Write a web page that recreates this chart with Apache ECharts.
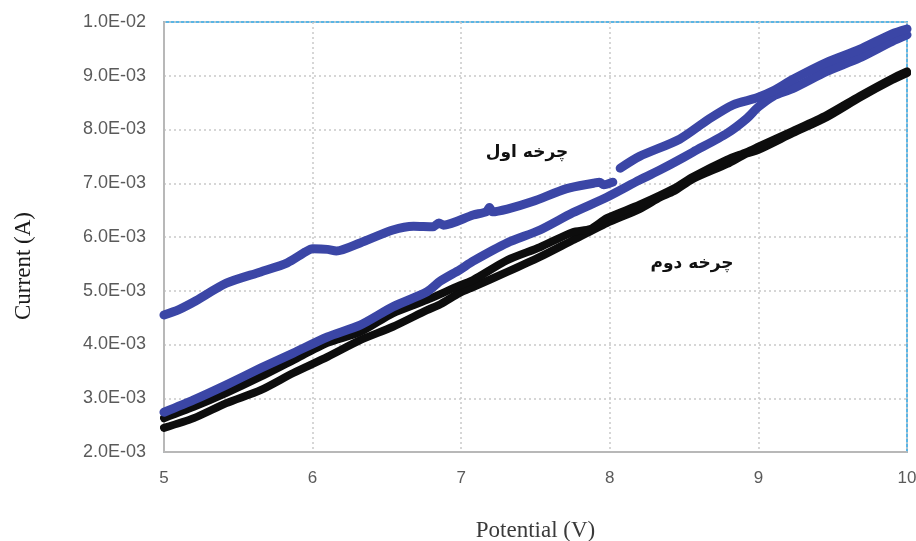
<!DOCTYPE html>
<html>
<head>
<meta charset="utf-8">
<script src="https://cdn.jsdelivr.net/npm/echarts@6/dist/echarts.min.js"></script>
<style>
  html, body { margin: 0; padding: 0; background: #ffffff; }
  #chart { width: 916px; height: 541px; }
</style>
</head>
<body>
<div id="chart"></div>
<script>
// ---- Data ----
const xTickLabels = ['5', '6', '7', '8', '9', '10'];
const yTickLabels = ['2.0E-03', '3.0E-03', '4.0E-03', '5.0E-03', '6.0E-03', '7.0E-03', '8.0E-03', '9.0E-03', '1.0E-02'];

// Cycle 1 (blue) - lower branch
const cycle1LowerV = [5.00, 5.20, 5.42, 5.65, 5.87, 6.10, 6.32, 6.54, 6.77, 6.86, 6.99, 7.08, 7.31, 7.53, 7.75, 7.98, 8.20, 8.34, 8.43, 8.56, 8.79, 8.92, 9.00, 9.10, 9.23, 9.46, 9.68, 9.90, 10.00];
const cycle1LowerI = [2.74e-3, 2.97e-3, 3.25e-3, 3.56e-3, 3.84e-3, 4.14e-3, 4.36e-3, 4.70e-3, 4.98e-3, 5.18e-3, 5.39e-3, 5.55e-3, 5.89e-3, 6.13e-3, 6.45e-3, 6.74e-3, 7.06e-3, 7.25e-3, 7.38e-3, 7.58e-3, 7.93e-3, 8.20e-3, 8.42e-3, 8.62e-3, 8.76e-3, 9.08e-3, 9.33e-3, 9.64e-3, 9.76e-3];

// Cycle 1 (blue) - upper branch (null = gap in the trace)
const cycle1UpperV = [5.00, 5.10, 5.20, 5.42, 5.65, 5.83, 5.95, 6.00, 6.10, 6.16, 6.32, 6.54, 6.68, 6.81, 6.85, 6.88, 7.08, 7.17, 7.19, 7.21, 7.31, 7.48, 7.71, 7.89, 7.93, 7.96, 8.02, 8.04, 8.07, 8.20, 8.47, 8.67, 8.83, 8.99, 9.10, 9.23, 9.46, 9.68, 9.90, 10.00];
const cycle1UpperI = [4.55e-3, 4.65e-3, 4.79e-3, 5.14e-3, 5.35e-3, 5.52e-3, 5.72e-3, 5.78e-3, 5.77e-3, 5.74e-3, 5.89e-3, 6.13e-3, 6.20e-3, 6.19e-3, 6.26e-3, 6.22e-3, 6.41e-3, 6.47e-3, 6.55e-3, 6.47e-3, 6.52e-3, 6.66e-3, 6.90e-3, 7.00e-3, 7.02e-3, 6.97e-3, 7.02e-3, null, 7.28e-3, 7.50e-3, 7.82e-3, 8.20e-3, 8.46e-3, 8.59e-3, 8.72e-3, 8.93e-3, 9.25e-3, 9.49e-3, 9.78e-3, 9.87e-3];

// Cycle 2 (black) - lower branch
const cycle2LowerV = [5.00, 5.20, 5.42, 5.65, 5.87, 6.10, 6.32, 6.54, 6.77, 6.86, 6.99, 7.08, 7.31, 7.53, 7.75, 7.98, 8.20, 8.34, 8.43, 8.56, 8.79, 8.92, 9.00, 9.23, 9.46, 9.68, 9.90, 10.00];
const cycle2LowerI = [2.45e-3, 2.63e-3, 2.91e-3, 3.15e-3, 3.47e-3, 3.77e-3, 4.08e-3, 4.33e-3, 4.64e-3, 4.75e-3, 4.96e-3, 5.07e-3, 5.35e-3, 5.63e-3, 5.94e-3, 6.26e-3, 6.52e-3, 6.74e-3, 6.85e-3, 7.08e-3, 7.36e-3, 7.55e-3, 7.62e-3, 7.93e-3, 8.23e-3, 8.59e-3, 8.92e-3, 9.05e-3];

// Cycle 2 (black) - upper branch
const cycle2UpperV = [5.00, 5.20, 5.42, 5.65, 5.87, 6.10, 6.32, 6.54, 6.77, 6.99, 7.08, 7.31, 7.53, 7.75, 7.87, 7.98, 8.20, 8.43, 8.56, 8.79, 8.92, 9.00, 9.23, 9.46, 9.68, 9.90, 10.00];
const cycle2UpperI = [2.63e-3, 2.84e-3, 3.10e-3, 3.40e-3, 3.71e-3, 4.03e-3, 4.23e-3, 4.58e-3, 4.83e-3, 5.10e-3, 5.20e-3, 5.57e-3, 5.81e-3, 6.09e-3, 6.15e-3, 6.35e-3, 6.60e-3, 6.90e-3, 7.12e-3, 7.44e-3, 7.58e-3, 7.68e-3, 7.97e-3, 8.27e-3, 8.62e-3, 8.95e-3, 9.08e-3];

const cycle1Label = 'چرخه اول';
const cycle2Label = 'چرخه دوم';
const xTitle = 'Potential (V)';
const yTitle = 'Current (A)';

// ---- Build chart ----
const xMin = 5, xMax = 10, xStep = 1;
const yMin = 0.002, yMax = 0.01, yStep = 0.001;

function pairs(v, i) { return v.map((x, k) => [x, i[k]]); }

const blue = '#3b46a6';
const black = '#0d0d0d';

function lineSeries(name, data, color, width) {
  return {
    name: name,
    type: 'line',
    data: data,
    showSymbol: false,
    symbol: 'none',
    smooth: 0.25,
    connectNulls: false,
    lineStyle: { color: color, width: width, cap: 'round', join: 'round' },
    emphasis: { disabled: true },
    silent: true,
    z: 3
  };
}

const chart = echarts.init(document.getElementById('chart'), null, { renderer: 'canvas' });
chart.setOption({
  animation: false,
  backgroundColor: '#ffffff',
  grid: {
    left: 164, right: 9, top: 22, bottom: 89,
    show: true, borderColor: '#5ab6e6', borderWidth: 2,
    containLabel: false,
    outerBoundsMode: 'none'
  },
  xAxis: {
    type: 'value', min: xMin, max: xMax, interval: xStep,
    z: 2,
    name: xTitle, nameLocation: 'middle', nameGap: 67,
    nameTextStyle: { fontFamily: 'Liberation Serif', fontSize: 23, color: '#3a3a3a' },
    axisLine: { show: true, onZero: false, lineStyle: { color: '#b8b8b8', width: 2 } },
    axisTick: { show: false },
    axisLabel: {
      margin: 18, fontFamily: 'Liberation Sans', fontSize: 17, color: '#5a5a5a',
      formatter: v => xTickLabels[Math.round((v - xMin) / xStep)]
    },
    splitLine: { show: true, lineStyle: { color: '#c9c9c9', width: 1.5, type: [2, 3] } }
  },
  yAxis: {
    type: 'value', min: yMin, max: yMax, interval: yStep,
    z: 2,
    axisLine: { show: true, onZero: false, lineStyle: { color: '#b8b8b8', width: 2 } },
    axisTick: { show: false },
    axisLabel: {
      margin: 18, fontFamily: 'Liberation Sans', fontSize: 18, color: '#5a5a5a',
      formatter: v => yTickLabels[Math.round((v - yMin) / yStep)]
    },
    splitLine: { show: true, lineStyle: { color: '#c9c9c9', width: 1.5, type: [2, 3] } }
  },
  graphic: [
    {
      type: 'text', x: 24, y: 266, rotation: Math.PI / 2,
      style: { text: yTitle, font: '23px "Liberation Serif"', fill: '#1a1a1a', textAlign: 'center', textVerticalAlign: 'middle' }
    },
    {
      type: 'text', x: 527, y: 153, z: 10,
      style: { text: cycle1Label, font: 'bold 17px "DejaVu Sans"', fill: '#111111', textAlign: 'center', textVerticalAlign: 'middle' }
    },
    {
      type: 'text', x: 692, y: 264, z: 10,
      style: { text: cycle2Label, font: 'bold 17px "DejaVu Sans"', fill: '#111111', textAlign: 'center', textVerticalAlign: 'middle' }
    }
  ],
  series: [
    lineSeries(cycle2Label + ' 1', pairs(cycle2LowerV, cycle2LowerI), black, 8),
    lineSeries(cycle2Label + ' 2', pairs(cycle2UpperV, cycle2UpperI), black, 8),
    lineSeries(cycle1Label + ' 1', pairs(cycle1LowerV, cycle1LowerI), blue, 9),
    lineSeries(cycle1Label + ' 2', pairs(cycle1UpperV, cycle1UpperI), blue, 9)
  ]
});
</script>
</body>
</html>
